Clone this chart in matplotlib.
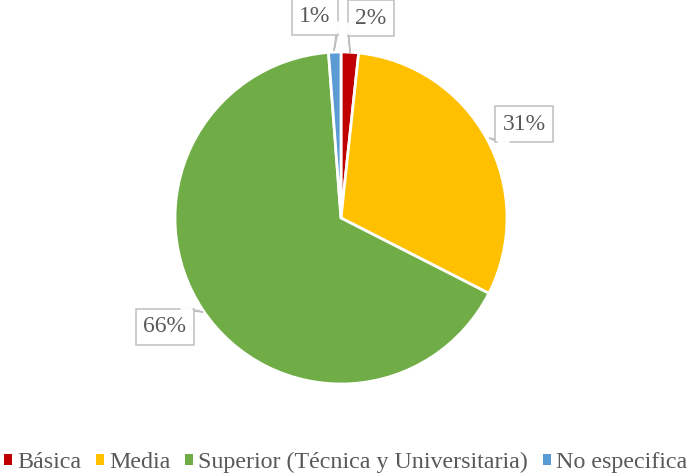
import matplotlib
matplotlib.use("Agg")
import matplotlib.pyplot as plt
from matplotlib.patches import Patch, Polygon

categories = ["Básica", "Media", "Superior (Técnica y Universitaria)", "No especifica"]
shares = [1.7, 30.8, 66.3, 1.2]
labels = ["2%", "31%", "66%", "1%"]
colors = ["#C00000", "#FFC000", "#70AD47", "#5B9BD5"]

W, H = 691, 476
CX, CY, R = 341, H - 218, 166

# callout box centres, pointer tips and where the pointer leaves the box
label_pos = [(371, 18), (524, 124), (165, 327), (315, 17)]
tip_pos = [(350, 53), (489, 138), (203, 312), (334, 51)]
base_pos = [(361, 60), (470, 132), (220, 317), (324, 60)]

fig = plt.figure(figsize=(W / 100, H / 100), dpi=100)
ax = fig.add_axes([0, 0, 1, 1])

ax.pie(shares, colors=colors, startangle=90, counterclock=False,
       center=(CX, CY), radius=R, frame=True,
       wedgeprops=dict(edgecolor="white", linewidth=2))
ax.set_xlim(0, W)
ax.set_ylim(0, H)
ax.set_aspect("equal")
ax.axis("off")

texts = []
for lab, (lx, ly) in zip(labels, label_pos):
    t = ax.text(lx, H - ly, lab, ha="center", va="center", fontsize=17,
                color="#595959", family="Liberation Serif", zorder=5,
                bbox=dict(boxstyle="square,pad=0.3", fc="white", ec="#BFBFBF", lw=1.1))
    texts.append(t)

fig.canvas.draw()
inv = ax.transData.inverted()
for t, (tx, ty), (bx, by) in zip(texts, tip_pos, base_pos):
    ext = t.get_bbox_patch().get_window_extent()
    x0, y0 = inv.transform((ext.x0, ext.y0))
    x1, y1 = inv.transform((ext.x1, ext.y1))
    by = H - by
    # snap the pointer base onto the nearest box edge
    d = {"l": abs(bx - x0), "r": abs(bx - x1), "b": abs(by - y0), "t": abs(by - y1)}
    side = min(d, key=d.get)
    half = 6
    if side in "lr":
        ex = x0 if side == "l" else x1
        cy = min(max(by, y0 + half + 2), y1 - half - 2)
        p1, p2 = (ex, cy - half), (ex, cy + half)
    else:
        ey = y0 if side == "b" else y1
        cx = min(max(bx, x0 + half + 2), x1 - half - 2)
        p1, p2 = (cx - half, ey), (cx + half, ey)
    ax.add_patch(Polygon([p1, (tx, H - ty), p2], closed=False, fc="white",
                         ec="#BFBFBF", lw=1.1, zorder=4))
    ax.plot([p1[0], p2[0]], [p1[1], p2[1]], color="white", lw=2,
            solid_capstyle="butt", zorder=6)

handles = [Patch(facecolor=c, edgecolor="none") for c in colors]
fig.legend(handles, categories, loc="lower center", bbox_to_anchor=(0.5, -0.04),
           ncol=4, frameon=False, handlelength=0.32, handleheight=0.32,
           handletextpad=0.22, columnspacing=0.62,
           prop={"family": "Liberation Serif", "size": 17.3}, labelcolor="#595959")

fig.savefig("out.png", dpi=100)
